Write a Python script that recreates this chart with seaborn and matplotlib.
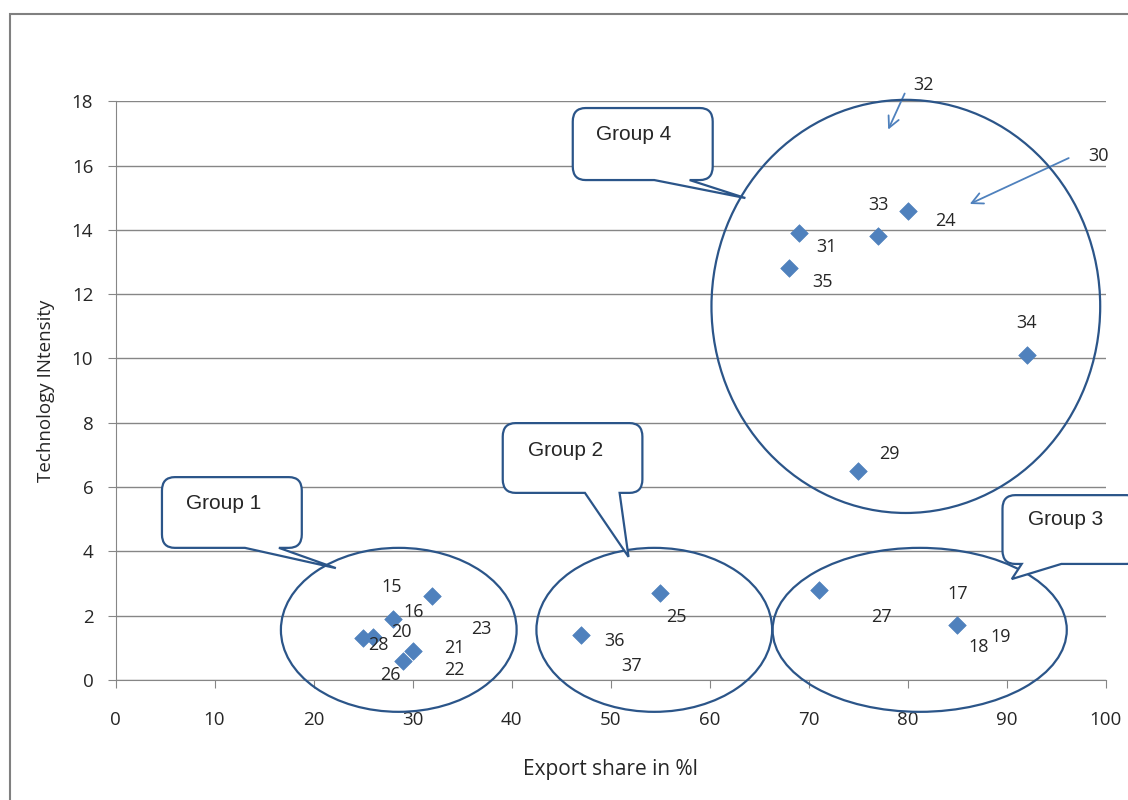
import numpy as np
import pandas as pd
import matplotlib.pyplot as plt
import seaborn as sns
from matplotlib.patches import Ellipse, PathPatch, Rectangle
from matplotlib.path import Path

# data
export_share = [32, 28, 25, 26, 30, 29, 55, 47, 71, 85, 80, 77, 69, 68, 92, 75]
tech_intensity = [2.6, 1.9, 1.3, 1.35, 0.9, 0.6, 2.7, 1.4, 2.8, 1.7,
                  14.6, 13.8, 13.9, 12.8, 10.1, 6.5]

# data labels (they sit a bit off their points, as in the original)
label_text = ["15", "16", "20", "28", "26", "21", "22", "23", "25", "36", "37",
              "27", "17", "18", "19", "33", "24", "31", "35", "34", "29", "32", "30"]
label_x = [27.9, 30.1, 28.9, 26.5, 27.8, 34.2, 34.2, 36.9, 56.6, 50.4, 52.1,
           77.3, 85.0, 87.1, 89.4, 77.0, 83.8, 71.8, 71.4, 92.0, 78.1, 81.6, 99.3]
label_y = [2.88, 2.1, 1.5, 1.08, 0.16, 0.99, 0.31, 1.58, 1.97, 1.21, 0.44,
           1.97, 2.67, 1.03, 1.34, 14.77, 14.29, 13.48, 12.39, 11.1, 7.03, 18.5, 16.3]

# group circles
group_names = ["Group 1", "Group 2", "Group 3", "Group 4"]
circle_cx = [28.6, 54.4, 81.2, 79.8]
circle_cy = [1.56, 1.56, 1.56, 11.62]
circle_w = [23.8, 23.8, 29.7, 39.25]
circle_h = [5.1, 5.1, 5.1, 12.85]

df = pd.DataFrame({"Export share in %l": export_share,
                   "Technology INtensity": tech_intensity})

sns.set_style("white")
plt.rcParams['font.family'] = ['Open Sans', 'DejaVu Sans']

fig = plt.figure(figsize=(11.28, 8), dpi=100)
ax = fig.add_axes([0.1024, 0.15, 0.878, 0.7234])

edge = "#868686"
dark = "#2B5589"
light = "#4F81BD"

ax.yaxis.grid(True, color=edge, lw=1)
ax.set_axisbelow(True)
sns.scatterplot(data=df, x="Export share in %l", y="Technology INtensity",
                marker="D", s=80, color=light, edgecolor=light, linewidth=0.5,
                ax=ax, zorder=5, clip_on=False)

ax.set_xlim(0, 100)
ax.set_ylim(0, 18)
ax.set_xticks(np.arange(0, 101, 10))
ax.set_yticks(np.arange(0, 19, 2))
for s in ["top", "right"]:
    ax.spines[s].set_visible(False)
ax.spines["left"].set_color(edge)
ax.spines["bottom"].set_color(edge)
ax.tick_params(axis="both", length=6, color=edge, labelsize=13.5, direction="out",
               left=True, bottom=True)
ax.tick_params(axis="x", pad=16)
ax.tick_params(axis="y", pad=10)
ax.set_xlabel("Export share in %l", fontsize=15, labelpad=22)
ax.set_ylabel("Technology INtensity", fontsize=13.5, labelpad=12)

for t, x, y in zip(label_text, label_x, label_y):
    ax.text(x, y, t, fontsize=13, ha="center", va="center", clip_on=False, zorder=6)

for cx, cy, w, h in zip(circle_cx, circle_cy, circle_w, circle_h):
    ax.add_patch(Ellipse((cx, cy), w, h, fill=False, ec=dark, lw=1.6,
                         clip_on=False, zorder=4))

# arrows pointing at the hidden points 32 and 30
ax.annotate("", xy=(77.9, 17.04), xytext=(79.8, 18.32), annotation_clip=False,
            arrowprops=dict(arrowstyle="->,head_length=0.8,head_width=0.4",
                            color=light, lw=1.3))
ax.annotate("", xy=(86.0, 14.77), xytext=(96.5, 16.27), annotation_clip=False,
            arrowprops=dict(arrowstyle="->,head_length=0.8,head_width=0.4",
                            color=light, lw=1.3))


def callout(x0, x1, y0, y1, b1, b2, tip, rx=1.3, ry=0.42):
    verts = [(x0 + rx, y1), (x1 - rx, y1), (x1, y1), (x1, y1 - ry),
             (x1, y0 + ry), (x1, y0), (x1 - rx, y0),
             (b2, y0), tip, (b1, y0),
             (x0 + rx, y0), (x0, y0), (x0, y0 + ry),
             (x0, y1 - ry), (x0, y1), (x0 + rx, y1), (x0 + rx, y1)]
    codes = [Path.MOVETO, Path.LINETO, Path.CURVE3, Path.CURVE3,
             Path.LINETO, Path.CURVE3, Path.CURVE3,
             Path.LINETO, Path.LINETO, Path.LINETO,
             Path.LINETO, Path.CURVE3, Path.CURVE3,
             Path.LINETO, Path.CURVE3, Path.CURVE3, Path.CLOSEPOLY]
    ax.add_patch(PathPatch(Path(verts, codes), fc="white", ec=dark, lw=1.6,
                           clip_on=False, zorder=7))


callout(4.69, 18.81, 4.11, 6.31, 13.07, 16.5, (22.25, 3.48))
callout(39.1, 53.2, 5.82, 7.99, 47.4, 50.9, (51.8, 3.83))
callout(89.56, 103.4, 3.61, 5.75, 91.5, 95.5, (90.5, 3.14))
callout(46.17, 60.3, 15.55, 17.79, 54.4, 57.97, (63.6, 14.99))

box_tx = [10.95, 45.4, 95.9, 52.3]
box_ty = [5.5, 7.15, 5.0, 16.98]
for name, x, y in zip(group_names, box_tx, box_ty):
    ax.text(x, y, name, fontsize=15, family="Liberation Sans", ha="center",
            va="center", zorder=8, clip_on=False)

# outer chart border (cut off at right and bottom)
fig.patches.append(Rectangle((10 / 1128, -0.1), 1.2, 1 - 14 / 800 + 0.1,
                             transform=fig.transFigure, fill=False,
                             ec="#808080", lw=1.5))

fig.savefig("out.png", dpi=100)
